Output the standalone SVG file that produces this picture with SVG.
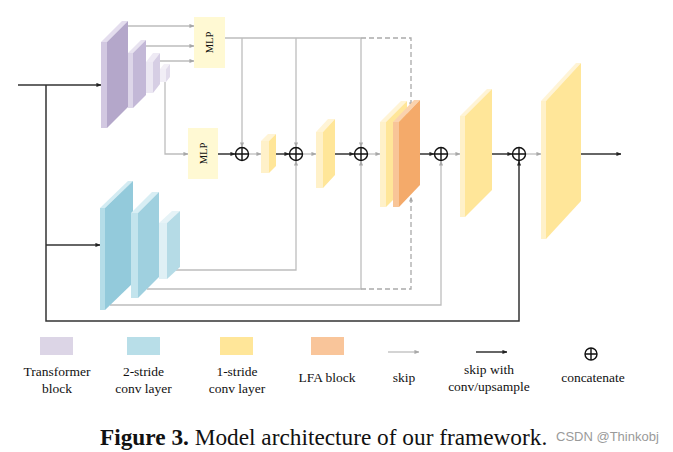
<svg xmlns="http://www.w3.org/2000/svg" width="673" height="452" viewBox="0 0 673 452">
<defs>
<marker id="ag" viewBox="0 0 6 6" refX="5.5" refY="3" markerWidth="5" markerHeight="5" markerUnits="userSpaceOnUse" orient="auto"><path d="M0,0.5 L6,3 L0,5.5 z" fill="#a8a8a8"/></marker>
<marker id="ad" viewBox="0 0 6 6" refX="5.5" refY="3" markerWidth="5" markerHeight="5" markerUnits="userSpaceOnUse" orient="auto"><path d="M0,0.5 L6,3 L0,5.5 z" fill="#222"/></marker>
<style>
.g{fill:none;stroke:#bdbdbd;stroke-width:1.3}
.ga{fill:none;stroke:#bdbdbd;stroke-width:1.3;marker-end:url(#ag)}
.gd{fill:none;stroke:#aaa;stroke-width:1.3;stroke-dasharray:5,3;marker-end:url(#ag)}
.d{fill:none;stroke:#333;stroke-width:1.5;marker-end:url(#ad)}
.plus{fill:none;stroke:#111;stroke-width:1.4}
.mlp{fill:#fff9d3}
.t{font-family:"Liberation Serif","Times New Roman",serif;fill:#111}
.lg{font-size:13.5px;text-anchor:middle}
</style>
</defs>
<rect width="673" height="452" fill="#fff"/>

<g id="connectors">
<path class="d" d="M18,85 H101"/>
<path class="d" d="M46,85 V321 H519 V161"/>
<path class="d" d="M46,245 H100"/>
<path class="ga" d="M128,26 H194"/>
<path class="ga" d="M146,46 H194"/>
<path class="ga" d="M160,61 H194"/>
<path class="ga" d="M165,82 V154 H188"/>
<path class="d" d="M218,154 H235"/>
<path class="g" d="M225,38 H361"/>
<path class="ga" d="M242,38 V147"/>
<path class="ga" d="M296,38 V147"/>
<path class="ga" d="M361,38 V147"/>
<path class="gd" d="M361,38 H411 V107"/>
<path class="ga" d="M176,270 H296 V161"/>
<path class="ga" d="M147,289 H361 V161"/>
<path class="gd" d="M361,289 H411 V197"/>
<path class="ga" d="M110,305 H441 V161"/>
<path class="ga" d="M248.5,154 H261"/>
<path class="d" d="M276,154 H289"/>
<path class="ga" d="M302.5,154 H316"/>
<path class="d" d="M335,154 H354"/>
<path class="ga" d="M367.5,154 H380"/>
<path class="d" d="M420,154 H434"/>
<path class="ga" d="M447.5,154 H460"/>
<path class="d" d="M492,154 H512"/>
<path class="ga" d="M525.5,154 H541"/>
<path class="d" d="M581,154 H621"/>
</g>

<g id="transformer1">
<polygon points="101,42 122,21 128,21 107,42" fill="#e4ddee"/>
<polygon points="107,42 128,21 128,107 107,128" fill="#b4a7ca"/>
<rect x="101" y="42" width="6" height="86" fill="#d2c8e1"/>
</g>
<g id="transformer2">
<polygon points="128,53 141,40 146,40 133,53" fill="#e8e3f0"/>
<polygon points="133,53 146,40 146,95 133,108" fill="#c3b8d7"/>
<rect x="128" y="53" width="5" height="55" fill="#ddd6e9"/>
</g>
<g id="transformer3">
<polygon points="146,62 153,53 160,53 153,62" fill="#eeeaf4"/>
<polygon points="153,62 160,53 160,84 153,93" fill="#d6cee4"/>
<rect x="146" y="62" width="7" height="31" fill="#ebe7f2"/>
</g>
<g id="transformer4">
<polygon points="160,69 164,64 170,64 166,69" fill="#f3f0f7"/>
<polygon points="166,69 170,64 170,77 166,82" fill="#e2dcec"/>
<rect x="160" y="69" width="6" height="13" fill="#f1eef6"/>
</g>

<g id="mlp1">
<rect class="mlp" x="194" y="17" width="31" height="51"/>
<text class="t" font-size="10.5" text-anchor="middle" transform="translate(213,42.5) rotate(-90)">MLP</text>
</g>
<g id="mlp2">
<rect class="mlp" x="188" y="128" width="30" height="51"/>
<text class="t" font-size="10.5" text-anchor="middle" transform="translate(207,153.5) rotate(-90)">MLP</text>
</g>

<g id="conv2s1">
<polygon points="100,208 128,181 133,181 105,208" fill="#d3ecf3"/>
<polygon points="105,208 133,181 133,283 105,310" fill="#93cadb"/>
<rect x="100" y="208" width="5" height="102" fill="#b5dde8"/>
</g>
<g id="conv2s2">
<polygon points="131,213 152,192 159,192 138,213" fill="#d8eef4"/>
<polygon points="138,213 159,192 159,277 138,298" fill="#9fd0df"/>
<rect x="131" y="213" width="7" height="85" fill="#c3e4ed"/>
</g>
<g id="conv2s3">
<polygon points="159,223 172,211 180,211 167,223" fill="#e6f3f7"/>
<polygon points="167,223 180,211 180,267 167,279" fill="#b5dbe6"/>
<rect x="159" y="223" width="8" height="56" fill="#dff0f5"/>
</g>

<g id="plus1"><circle class="plus" cx="242" cy="154" r="6.5"/><path class="plus" d="M235.5,154 H248.5 M242,147.5 V160.5"/></g>
<g id="plus2"><circle class="plus" cx="296" cy="154" r="6.5"/><path class="plus" d="M289.5,154 H302.5 M296,147.5 V160.5"/></g>
<g id="plus3"><circle class="plus" cx="361" cy="154" r="6.5"/><path class="plus" d="M354.5,154 H367.5 M361,147.5 V160.5"/></g>
<g id="plus4"><circle class="plus" cx="441" cy="154" r="6.5"/><path class="plus" d="M434.5,154 H447.5 M441,147.5 V160.5"/></g>
<g id="plus5"><circle class="plus" cx="519" cy="154" r="6.5"/><path class="plus" d="M512.5,154 H525.5 M519,147.5 V160.5"/></g>

<g id="conv1s1">
<polygon points="261,141 268,134 276,134 269,141" fill="#fff4d6"/>
<polygon points="269,141 276,134 276,166 269,173" fill="#ffe699"/>
<rect x="261" y="141" width="8" height="32" fill="#fff1c9"/>
</g>
<g id="conv1s2">
<polygon points="316,132 328,119 335,119 323,132" fill="#fff4d6"/>
<polygon points="323,132 335,119 335,175 323,188" fill="#ffe699"/>
<rect x="316" y="132" width="7" height="56" fill="#fff1c9"/>
</g>
<g id="conv1s3">
<polygon points="380,122 401,101 407,101 386,122" fill="#fff4d6"/>
<polygon points="386,122 407,101 407,186 386,207" fill="#ffe699"/>
<rect x="380" y="122" width="6" height="85" fill="#fff1c9"/>
</g>
<g id="lfa">
<polygon points="393,122 414,100 420,100 399,122" fill="#fad2ae"/>
<polygon points="399,122 420,100 420,185 399,207" fill="#f4aa6a"/>
<rect x="393" y="122" width="6" height="85" fill="#f8c598"/>
</g>
<g id="conv1s4">
<polygon points="460,116 487,89 492,89 465,116" fill="#fff4d6"/>
<polygon points="465,116 492,89 492,190 465,217" fill="#ffe699"/>
<rect x="460" y="116" width="5" height="101" fill="#fff1c9"/>
</g>
<g id="conv1s5">
<polygon points="541,101 576,63 581,63 546,101" fill="#fff4d6"/>
<polygon points="546,101 581,63 581,201 546,239" fill="#ffe699"/>
<rect x="541" y="101" width="5" height="138" fill="#fff1c9"/>
</g>

<g id="legend">
<rect x="40" y="337" width="33" height="18" fill="#dcd5e6"/>
<rect x="127" y="337" width="33" height="18" fill="#b8dee8"/>
<rect x="220" y="337" width="33" height="18" fill="#ffe699"/>
<rect x="311" y="337" width="33" height="18" fill="#f9c59a"/>
<path class="ga" d="M388,352 H419"/>
<path class="d" d="M476,352 H507"/>
<circle class="plus" cx="591" cy="354" r="6"/><path class="plus" d="M585,354 H597 M591,348 V360"/>
<text class="t lg" x="57" y="376">Transformer</text>
<text class="t lg" x="57" y="393">block</text>
<text class="t lg" x="143.5" y="376">2-stride</text>
<text class="t lg" x="143.5" y="393">conv layer</text>
<text class="t lg" x="237" y="376">1-stride</text>
<text class="t lg" x="237" y="393">conv layer</text>
<text class="t lg" x="327" y="382">LFA block</text>
<text class="t lg" x="404" y="382">skip</text>
<text class="t lg" x="489" y="374">skip with</text>
<text class="t lg" x="489" y="391">conv/upsample</text>
<text class="t lg" x="593" y="382">concatenate</text>
</g>

<g id="caption">
<text class="t" x="100" y="445" font-size="23.3"><tspan font-weight="bold">Figure 3.</tspan> Model architecture of our framework.</text>
<text x="556" y="441" font-family="Liberation Sans, Arial, sans-serif" font-size="13" fill="#9a9a9a">CSDN @Thinkobj</text>
</g>
</svg>
